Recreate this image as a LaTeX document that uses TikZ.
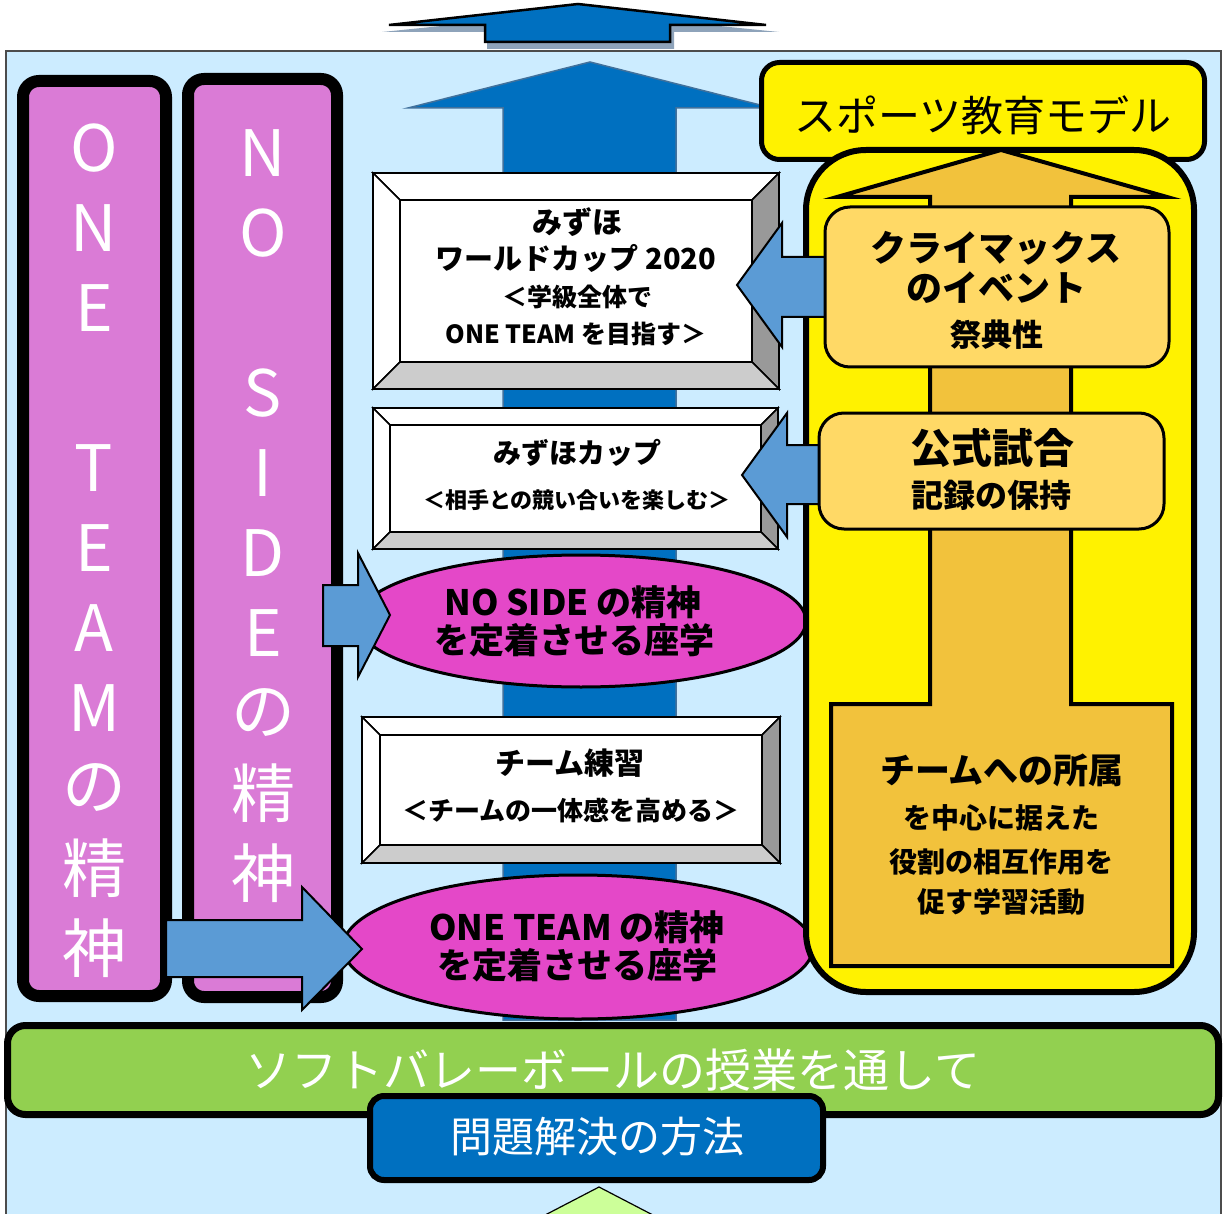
\documentclass[tikz,border=0pt]{standalone}
\usepackage{fontspec}
\setmainfont{Noto Sans CJK JP}
\definecolor{panel}{HTML}{CCECFF}
\definecolor{bluearr}{HTML}{0070C0}
\definecolor{blueedge}{HTML}{41719C}
\definecolor{arrshadow}{HTML}{8EA3BA}
\definecolor{colpink}{HTML}{DA7BD6}
\definecolor{magenta2}{HTML}{E448C8}
\definecolor{smallarr}{HTML}{5B9BD5}
\definecolor{orangeA}{HTML}{F2C23C}
\definecolor{orangeB}{HTML}{FFD966}
\definecolor{bevdark}{HTML}{999999}
\definecolor{bevlight}{HTML}{CCCCCC}
\definecolor{greenbar}{HTML}{92D050}
\definecolor{tri}{HTML}{CCFF99}
\newcommand\bevbox[5]{%
  \draw[fill=white, line width=1.5] (#1,#2) -- (#3,#2) -- ({#3-#5},{#2+#5}) -- ({#1+#5},{#2+#5}) -- cycle;
  \draw[fill=white, line width=1.5] (#1,#2) -- ({#1+#5},{#2+#5}) -- ({#1+#5},{#4-#5}) -- (#1,#4) -- cycle;
  \draw[fill=bevdark, line width=1.5] (#3,#2) -- (#3,#4) -- ({#3-#5},{#4-#5}) -- ({#3-#5},{#2+#5}) -- cycle;
  \draw[fill=bevlight, line width=1.5] (#1,#4) -- (#3,#4) -- ({#3-#5},{#4-#5}) -- ({#1+#5},{#4-#5}) -- cycle;
  \draw[fill=white, line width=2] ({#1+#5},{#2+#5}) rectangle ({#3-#5},{#4-#5});
  \draw[line width=2] (#1,#2) rectangle (#3,#4);
}
\tikzset{
  lbl/.style={inner sep=0, text=black, font=\bfseries\fontsize{#1}{#1}\selectfont},
  wlbl/.style={inner sep=0, text=white, font=\fontsize{#1}{#1}\selectfont},
  coltext/.style={inner sep=0, text=white, font=\fontsize{64}{64}\selectfont},
  blockarrow/.style={fill=smallarr, draw=black, line width=2, line join=miter},
}
\begin{document}
\begin{tikzpicture}[x=1pt,y=-1pt]
\useasboundingbox (0,0) rectangle (1223,1214);
\fill[white] (0,0) rectangle (1223,1214);
% top arrow outside the panel
\fill[arrshadow] (580,12) -- (779,32) -- (674,32) -- (674,49) -- (487,49) -- (487,32) -- (382,32) -- cycle;
\draw[fill=bluearr, line width=2.5, line join=miter] (578,4) -- (766,25) -- (670,25) -- (670,42) -- (485,42) -- (485,25) -- (389,25) -- cycle;
% panel
\draw[fill=panel, draw=black!70, line width=1.2] (6,51) rectangle (1221,1240);
% big inner arrow
\draw[fill=bluearr, draw=blueedge, line width=1.5] (590,62) -- (772,108) -- (676,108) -- (676,1020) -- (503,1020) -- (503,108) -- (408,108) -- cycle;
% left columns
\draw[fill=colpink, line width=12, rounded corners=16] (23,81) rectangle (166,996);
\draw[fill=colpink, line width=12, rounded corners=16] (188,79) rectangle (337,997);
\foreach \c/\yy in {O/148,N/228,E/308,T/468,E/548,A/628,M/708,の/788,精/868,神/948}
  \node[coltext] (one\yy) at (94,\yy) {\c};
\foreach \c/\yy in {N/153,O/233,S/393,I/473,D/553,E/633,の/713,精/793,神/873}
  \node[coltext] (nos\yy) at (263,\yy) {\c};
% bevel boxes
\bevbox{373}{173}{779}{389}{27}
\bevbox{373}{408}{778}{549}{17}
\bevbox{362}{717}{780}{863}{18}
\node[lbl=30] (t1a) at (577,222) {みずほ};
\node[lbl=29] (t1b) at (576,258) {ワールドカップ 2020};
\node[lbl=25] (t1c) at (577,297) {＜学級全体で};
\node[lbl=25] (t1d) at (576,334) {ONE TEAM を目指す＞};
\node[lbl=28] (t2a) at (577,453) {みずほカップ};
\node[lbl=22] (t2b) at (577,500) {＜相手との競い合いを楽しむ＞};
\node[lbl=30] (t3a) at (570,763) {チーム練習};
\node[lbl=26] (t3b) at (571,810) {＜チームの一体感を高める＞};
% ellipses
\draw[fill=magenta2, line width=3] (581,621) ellipse [x radius=225, y radius=66];
\draw[fill=magenta2, line width=3] (578,947) ellipse [x radius=235, y radius=72];
\node[lbl=35] (e1a) at (573,602) {NO SIDE の精神};
\node[lbl=35] (e1b) at (574,640) {を定着させる座学};
\node[lbl=35] (e2a) at (577,927) {ONE TEAM の精神};
\node[lbl=35] (e2b) at (577,965) {を定着させる座学};
% arrows from columns
\draw[blockarrow] (323,585) -- (358,585) -- (358,553) -- (390,615) -- (358,677) -- (358,646) -- (323,646) -- cycle;
\draw[blockarrow] (166,920) -- (302,920) -- (302,887) -- (362,949) -- (302,1010) -- (302,977) -- (166,977) -- cycle;
% right side
\draw[fill=yellow, line width=5, rounded corners=18] (761.5,62.5) rectangle (1204.5,159.5);
\node[inner sep=0, font=\fontsize{42}{42}\selectfont] (title) at (983,115) {スポーツ教育モデル};
\draw[fill=yellow, line width=6, rounded corners=60] (806,150) rectangle (1194,992);
\draw[fill=orangeA, line width=4, line join=miter] (1001,150) -- (1167,197) -- (1071,197) -- (1071,704) -- (1172,704) -- (1172,966) -- (831,966) -- (831,704) -- (930,704) -- (930,197) -- (837,197) -- cycle;
\draw[blockarrow] (828,257) -- (782,257) -- (782,223) -- (737,285) -- (782,347) -- (782,317) -- (828,317) -- cycle;
\draw[blockarrow] (822,445) -- (787,445) -- (787,413) -- (742,475) -- (787,537) -- (787,504) -- (822,504) -- cycle;
\draw[fill=orangeB, line width=3, rounded corners=25] (825,207) rectangle (1169,367);
\draw[fill=orangeB, line width=3, rounded corners=25] (819,413) rectangle (1164,529);
\node[lbl=36] (r1a) at (996,248) {クライマックス};
\node[lbl=36] (r1b) at (996,288) {のイベント};
\node[lbl=31] (r1c) at (997,335) {祭典性};
\node[lbl=41] (r2a) at (992,448) {公式試合};
\node[lbl=32] (r2b) at (991,495) {記録の保持};
\node[lbl=35] (r3a) at (1002,770) {チームへの所属};
\node[lbl=28] (r3b) at (1001,818) {を中心に据えた};
\node[lbl=28] (r3c) at (1001,862) {役割の相互作用を};
\node[lbl=28] (r3d) at (1001,902) {促す学習活動};
% bottom
\draw[fill=greenbar, line width=7, rounded corners=18] (7.5,1025.5) rectangle (1218.5,1114.5);
\node[wlbl=46] (soft) at (613,1070) {ソフトバレーボールの授業を通して};
\draw[fill=bluearr, line width=6, rounded corners=14] (370,1096) rectangle (823,1180);
\node[wlbl=42] (mondai) at (597,1137) {問題解決の方法};
\draw[fill=tri, line width=1.2] (599,1187) -- (701,1240) -- (497,1240) -- cycle;
\end{tikzpicture}
\end{document}
